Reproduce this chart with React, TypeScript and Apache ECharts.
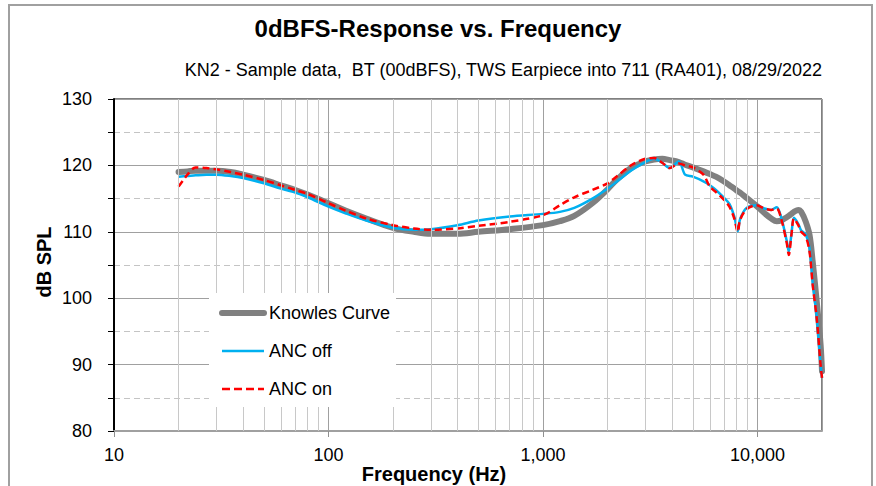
import React, { useEffect, useRef } from "react";
import * as echarts from "echarts";

const titleText = "0dBFS-Response vs. Frequency";
const subtitleText = "KN2 - Sample data,  BT (00dBFS), TWS Earpiece into 711 (RA401), 08/29/2022";
const xAxisName = "Frequency (Hz)";
const yAxisName = "dB SPL";
const seriesNames = ["Knowles Curve", "ANC off", "ANC on"];

const freqs = [20, 22, 24, 27, 30, 35, 40, 50, 60, 70, 80, 100, 120, 150, 200, 250, 300, 400, 500, 700,
  1000, 1200, 1400, 1700, 2000, 2200, 2600, 3000, 3300, 3600, 3900, 4300, 4600, 5000, 5600, 6000, 6400,
  6900, 7400, 7800, 8100, 8300, 8900, 9900, 10800, 11600, 12300, 12900, 13700, 14000, 14400, 14800,
  15500, 16000, 16800, 17500, 18100, 18900, 19700, 20000];

const knowles = [119.0, 119.1, 119.2, 119.2, 119.2, 119.0, 118.6, 117.8, 117.0, 116.3, 115.6, 114.3, 113.2, 112.0, 110.6, 110.0, 109.7, 109.7, 110.0, 110.4,
  111.0, 111.6, 112.4, 114.3, 116.4, 117.8, 119.7, 120.6, 120.9, 121.0, 120.8, 120.5, 120.1, 119.7, 119.1, 118.7, 118.3,
  117.7, 117.0, 116.5, 116.1, 115.9, 115.1, 113.9, 112.8, 112.0, 111.6, 111.7, 112.2, 112.4, 112.7, 113.0,
  113.3, 113.0, 111.5, 109.5, 105.5, 99.5, 93.0, 89.0];

const ancOff = [118.3, 118.4, 118.5, 118.6, 118.6, 118.4, 118.1, 117.3, 116.5, 115.9, 115.2, 113.8, 112.8, 111.7, 110.6, 110.3, 110.4, 111.0, 111.7, 112.3,
  112.7, 113.0, 113.6, 115.0, 116.5, 117.5, 119.3, 120.5, 121.0, 120.4, 119.6, 120.6, 118.6, 118.3, 117.6, 117.0, 116.3,
  115.3, 114.2, 112.3, 110.1, 111.9, 113.6, 114.0, 113.5, 113.3, 113.7, 112.2, 108.6, 107.0, 109.6, 112.1,
  111.2, 110.2, 109.6, 107.5, 102.2, 97.2, 90.0, 88.0];

const ancOn = [116.8, 118.6, 119.7, 119.6, 119.4, 119.0, 118.6, 117.8, 117.0, 116.3, 115.7, 114.3, 113.2, 112.0, 111.0, 110.5, 110.3, 110.5, 110.9, 111.5,
  112.5, 114.0, 115.2, 116.3, 117.3, 118.3, 120.1, 121.0, 121.1, 120.4, 119.6, 120.3, 120.0, 119.7, 118.6, 116.8, 116.0,
  115.0, 113.8, 112.0, 110.0, 111.8, 113.4, 114.0, 113.5, 113.3, 113.5, 112.0, 108.3, 106.5, 109.5, 112.0,
  111.0, 110.0, 109.3, 107.0, 102.0, 97.0, 90.0, 88.0];

const xMin = 10;
const xMax = 20000;
const yMin = 80;
const yMax = 130;
const yInterval = 10;

const FONT = "'Liberation Sans', Arial, Helvetica, sans-serif";

const GRAY = "#808080";
const BLUE = "#00b0f0";
const RED = "#ff0000";

function minorGridFreqs(): number[] {
  const out: number[] = [];
  for (let d = 10; d < xMax; d *= 10) {
    for (let k = 2; k <= 9; k++) {
      const f = d * k;
      if (f < xMax) out.push(f);
    }
  }
  return out;
}

function fmtFreq(v: number): string {
  const r = Math.round(v);
  const lg = Math.log10(r);
  if (Math.abs(lg - Math.round(lg)) > 1e-6) return "";
  return r.toLocaleString("en-US");
}

export default function App() {
  const ref = useRef<HTMLDivElement>(null);
  useEffect(() => {
    if (!ref.current) return;
    const chart = echarts.init(ref.current, undefined, { renderer: "svg" });
    const pair = (arr: number[]) => freqs.map((f, i) => [f, arr[i]]);
    const option: any = {
      animation: false,
      backgroundColor: "#ffffff",
      textStyle: { fontFamily: FONT },
      title: {
        text: titleText,
        left: "center",
        top: 11,
        textStyle: { fontFamily: FONT, fontSize: 24, fontWeight: "bold", color: "#000" },
      },
      grid: {
        left: 114,
        right: 54,
        top: 99,
        bottom: 55,
        show: true,
        borderColor: "#000",
        borderWidth: 1,
        backgroundColor: "transparent",
      },
      legend: {
        data: [
          { name: seriesNames[0], lineStyle: { width: 6, cap: "round", color: GRAY } },
          { name: seriesNames[1], lineStyle: { width: 2.5, color: BLUE } },
          { name: seriesNames[2], lineStyle: { width: 2.5, color: RED, type: [8, 4] } },
        ],
        orient: "vertical",
        left: 209,
        top: 293,
        backgroundColor: "#ffffff",
        padding: [11, 6, 9, 10],
        itemWidth: 42,
        itemHeight: 16,
        itemGap: 20,
        itemStyle: { opacity: 0 },
        textStyle: { fontFamily: FONT, fontSize: 18, color: "#000" },
        z: 10,
      },
      xAxis: {
        type: "log",
        logBase: 10,
        min: xMin,
        max: xMax,
        axisLine: { show: true, lineStyle: { color: "#a0a0a0", width: 2 } },
        axisTick: { show: true, length: 6, inside: false, lineStyle: { color: "#909090", width: 1 } },
        axisLabel: {
          formatter: fmtFreq,
          fontFamily: FONT,
          fontSize: 18,
          color: "#000",
          margin: 15,
          showMaxLabel: false,
        },
        splitLine: { show: true, lineStyle: { color: "#a0a0a0", width: 1 } },
        minorTick: { show: false },
        minorSplitLine: { show: false },
      },
      yAxis: {
        type: "value",
        min: yMin,
        max: yMax,
        interval: yInterval,
        axisLine: { show: true, lineStyle: { color: "#000", width: 2 } },
        axisTick: { show: true, length: 6, lineStyle: { color: "#000", width: 1 } },
        minorTick: { show: true, splitNumber: 2, length: 6, lineStyle: { color: "#000", width: 1 } },
        axisLabel: { fontFamily: FONT, fontSize: 18, color: "#000", margin: 22 },
        splitLine: { show: true, lineStyle: { color: "#a0a0a0", width: 1 } },
        minorSplitLine: { show: true, lineStyle: { color: "#c4c4c4", width: 1, type: [6, 4] } },
      },
      graphic: [
        {
          type: "rect",
          silent: true,
          shape: { x: 9, y: 5, width: 863, height: 520 },
          style: { fill: "none", stroke: "#a0a0a0", lineWidth: 2 },
          z: 100,
        },
        {
          type: "text",
          x: 822,
          y: 70,
          style: {
            text: subtitleText,
            textAlign: "right",
            textVerticalAlign: "middle",
            font: `18px ${FONT}`,
            fill: "#000",
          },
        },
        {
          type: "text",
          x: 434,
          y: 474,
          style: {
            text: xAxisName,
            textAlign: "center",
            textVerticalAlign: "middle",
            font: `bold 20px ${FONT}`,
            fill: "#000",
          },
        },
        {
          type: "text",
          x: 44,
          y: 262,
          rotation: Math.PI / 2,
          style: {
            text: yAxisName,
            textAlign: "center",
            textVerticalAlign: "middle",
            font: `bold 20px ${FONT}`,
            fill: "#000",
          },
        },
      ],
      series: [
        {
          type: "line",
          name: "minor-grid",
          data: [],
          z: 1,
          silent: true,
          markLine: {
            silent: true,
            symbol: ["none", "none"],
            label: { show: false },
            lineStyle: { color: "#c8c8c8", width: 1, type: "solid" },
            emphasis: { disabled: true },
            data: minorGridFreqs().map((f) => ({ xAxis: f })),
          },
        },
        {
          type: "line",
          name: seriesNames[0],
          data: pair(knowles),
          showSymbol: false,
          symbol: "none",
          smooth: 0.35,
          z: 2,
          lineStyle: { color: GRAY, width: 6, cap: "round", join: "round" },
          itemStyle: { color: GRAY },
        },
        {
          type: "line",
          name: seriesNames[1],
          data: pair(ancOff),
          showSymbol: false,
          symbol: "none",
          smooth: 0.3,
          z: 3,
          lineStyle: { color: BLUE, width: 2.5 },
          itemStyle: { color: BLUE },
        },
        {
          type: "line",
          name: seriesNames[2],
          data: pair(ancOn),
          showSymbol: false,
          symbol: "none",
          smooth: 0.3,
          z: 4,
          lineStyle: { color: RED, width: 2.5, type: [7, 4] },
          itemStyle: { color: RED },
        },
      ],
    };
    chart.setOption(option);
    return () => chart.dispose();
  }, []);
  return (
    <div
      ref={ref}
      style={{ position: "fixed", left: 0, top: 0, width: 876, height: 486, background: "#fff" }}
    />
  );
}
